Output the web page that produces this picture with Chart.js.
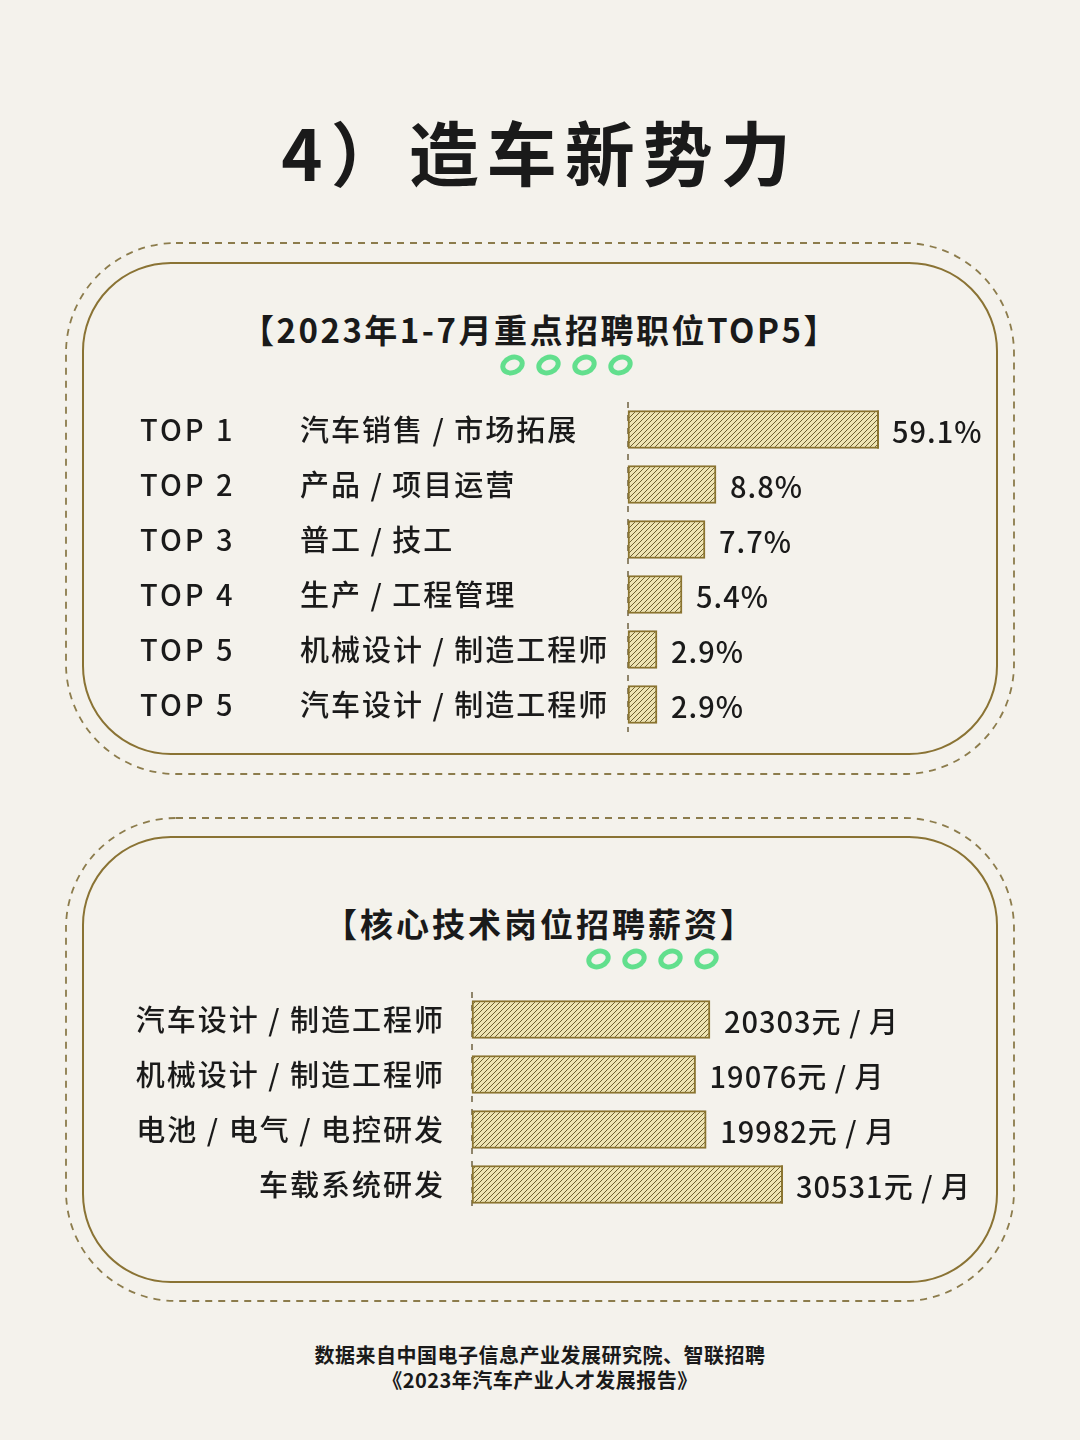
<!DOCTYPE html>
<html lang="zh">
<head>
<meta charset="utf-8">
<script src="https://cdn.jsdelivr.net/npm/chart.js@4.4.0/dist/chart.umd.min.js"></script>
<style>
  body { margin:0; background:#f4f2ec; }
  #page { position:relative; width:1080px; height:1440px; overflow:hidden; background:#f4f2ec;
          font-family:"Noto Sans CJK SC","Noto Sans",sans-serif; color:#1a1a1a; }
  .abs { position:absolute; }
  .center { left:0; width:1080px; text-align:center; }
  #title { top:100px; font-size:70px; font-weight:700; letter-spacing:8px; }
  .head { font-size:33px; font-weight:600; }
  .rings { display:flex; gap:11px; }
  .rings span { display:block; width:15px; height:10px; border:5px solid #62df8d; border-radius:50%; transform:rotate(-22deg); }
  .foot { font-size:20px; font-weight:700; letter-spacing:0.5px; }
</style>
</head>
<body>
<div id="page">
  <svg class="abs" style="left:0;top:0" width="1080" height="1440">
    <rect x="66" y="243" width="948" height="531" rx="110" fill="none" stroke="#8c7c4c" stroke-width="1.8" stroke-dasharray="7 6"/>
    <rect x="83" y="263" width="914" height="491" rx="88" fill="none" stroke="#8a7334" stroke-width="2"/>
    <rect x="66" y="818" width="948" height="483" rx="110" fill="none" stroke="#8c7c4c" stroke-width="1.8" stroke-dasharray="7 6"/>
    <rect x="83" y="837" width="914" height="445" rx="88" fill="none" stroke="#8a7334" stroke-width="2"/>
  </svg>
  <div id="title" class="abs center">4）造车新势力</div>

  <div class="abs center head" style="top:305px;letter-spacing:2.5px">【2023年1-7月重点招聘职位TOP5】</div>
  <div class="abs rings" style="left:500px;top:355px"><span></span><span></span><span></span><span></span></div>
  <canvas id="topChart" class="abs" style="left:0;top:402px" width="1080" height="330"></canvas>

  <div class="abs center head" style="top:899px;letter-spacing:3px">【核心技术岗位招聘薪资】</div>
  <div class="abs rings" style="left:586px;top:949px"><span></span><span></span><span></span><span></span></div>
  <canvas id="payChart" class="abs" style="left:0;top:992px" width="1080" height="220"></canvas>

  <div class="abs center foot" style="top:1340px">数据来自中国电子信息产业发展研究院、智联招聘</div>
  <div class="abs center foot" style="top:1365px">《2023年汽车产业人才发展报告》</div>
</div>

<script>
// 职位TOP5
var ranks = ['TOP 1', 'TOP 2', 'TOP 3', 'TOP 4', 'TOP 5', 'TOP 5'];
var jobs = ['汽车销售 / 市场拓展', '产品 / 项目运营', '普工 / 技工', '生产 / 工程管理', '机械设计 / 制造工程师', '汽车设计 / 制造工程师'];
var shares = [59.1, 8.8, 7.7, 5.4, 2.9, 2.9];
var shareMax = 25; // 轴截断，59.1 的柱子被裁到最右

// 薪资
var roles = ['汽车设计 / 制造工程师', '机械设计 / 制造工程师', '电池 / 电气 / 电控研发', '车载系统研发'];
var salaries = [20303, 19076, 19982, 30531];
var salaryMax = 26450;

var textColor = '#1a1a1a';
var edge = '#8a7430';
var font = '"Noto Sans CJK SC","Noto Sans",sans-serif';

function hatch() {
  var c = document.createElement('canvas');
  c.width = 5; c.height = 5;
  var g = c.getContext('2d');
  g.fillStyle = '#eee4b3';
  g.fillRect(0, 0, 5, 5);
  g.strokeStyle = '#6e6132';
  g.lineWidth = 1;
  g.beginPath();
  g.moveTo(-1, 6); g.lineTo(6, -1);
  g.moveTo(-3.5, 3.5); g.lineTo(3.5, -3.5);
  g.moveTo(1.5, 8.5); g.lineTo(8.5, 1.5);
  g.stroke();
  return g.createPattern(c, 'repeat');
}

// 虚线基准线 + 文字
function makeDeco(drawLabels) {
  return {
    id: 'deco',
    beforeDatasetsDraw: function(chart) {
      var a = chart.chartArea, ctx = chart.ctx;
      ctx.save();
      ctx.strokeStyle = '#6d6140';
      ctx.lineWidth = 1.5;
      ctx.setLineDash([6, 7]);
      ctx.beginPath();
      ctx.moveTo(a.left, a.top);
      ctx.lineTo(a.left, a.bottom);
      ctx.stroke();
      ctx.restore();
    },
    afterDatasetsDraw: function(chart) {
      var a = chart.chartArea, ctx = chart.ctx;
      var meta = chart.getDatasetMeta(0);
      ctx.save();
      meta.data.forEach(function(bar, i) {
        // 被截断的柱子补上右边框
        if (bar.x > a.right) {
          ctx.strokeStyle = edge;
          ctx.lineWidth = 2;
          ctx.beginPath();
          ctx.moveTo(a.right, bar.y - bar.height / 2);
          ctx.lineTo(a.right, bar.y + bar.height / 2);
          ctx.stroke();
        }
      });
      ctx.restore();
      drawLabels(chart, meta, a, ctx);
    }
  };
}

function barOptions(max, padLeft, padRight) {
  return {
    responsive: false,
    animation: false,
    indexAxis: 'y',
    layout: { padding: { left: padLeft, right: padRight, top: 0, bottom: 0 } },
    plugins: { legend: { display: false }, tooltip: { enabled: false } },
    scales: {
      x: { display: false, min: 0, max: max },
      y: { display: false }
    }
  };
}

document.addEventListener('DOMContentLoaded', function() {
  var pat = hatch();

  new Chart(document.querySelector('#topChart').getContext('2d'), {
    type: 'bar',
    data: {
      labels: ranks,
      datasets: [{
        data: shares,
        backgroundColor: pat,
        borderColor: edge,
        borderWidth: 2,
        borderSkipped: false,
        barThickness: 38,
        clip: { left: 5, top: 5, right: 1, bottom: 5 }
      }]
    },
    options: barOptions(shareMax, 628, 202),
    plugins: [makeDeco(function(chart, meta, a, ctx) {
      ctx.save();
      ctx.fillStyle = textColor;
      ctx.textBaseline = 'middle';
      ctx.textAlign = 'left';
      meta.data.forEach(function(bar, i) {
        ctx.font = '500 29px ' + font;
        ctx.letterSpacing = '3px';
        ctx.fillText(ranks[i], 140, bar.y);
        ctx.letterSpacing = '2px';
        ctx.fillText(jobs[i], 300, bar.y);
        ctx.font = '500 29px ' + font;
        ctx.letterSpacing = '1px';
        ctx.fillText(shares[i] + '%', Math.min(bar.x, a.right) + 14, bar.y + 2);
      });
      ctx.restore();
    })]
  });

  new Chart(document.querySelector('#payChart').getContext('2d'), {
    type: 'bar',
    data: {
      labels: roles,
      datasets: [{
        data: salaries,
        backgroundColor: pat,
        borderColor: edge,
        borderWidth: 2,
        borderSkipped: false,
        barThickness: 38,
        clip: { left: 5, top: 5, right: 1, bottom: 5 }
      }]
    },
    options: barOptions(salaryMax, 472, 298),
    plugins: [makeDeco(function(chart, meta, a, ctx) {
      ctx.save();
      ctx.fillStyle = textColor;
      ctx.textBaseline = 'middle';
      meta.data.forEach(function(bar, i) {
        ctx.font = '500 29px ' + font;
        ctx.letterSpacing = '2px';
        ctx.textAlign = 'right';
        ctx.fillText(roles[i], 445, bar.y);
        ctx.textAlign = 'left';
        ctx.font = '500 29px ' + font;
        ctx.letterSpacing = '1px';
        ctx.fillText(salaries[i] + '元 / 月', Math.min(bar.x, a.right) + 14, bar.y + 2);
      });
      ctx.restore();
    })]
  });
});
</script>
</body>
</html>
